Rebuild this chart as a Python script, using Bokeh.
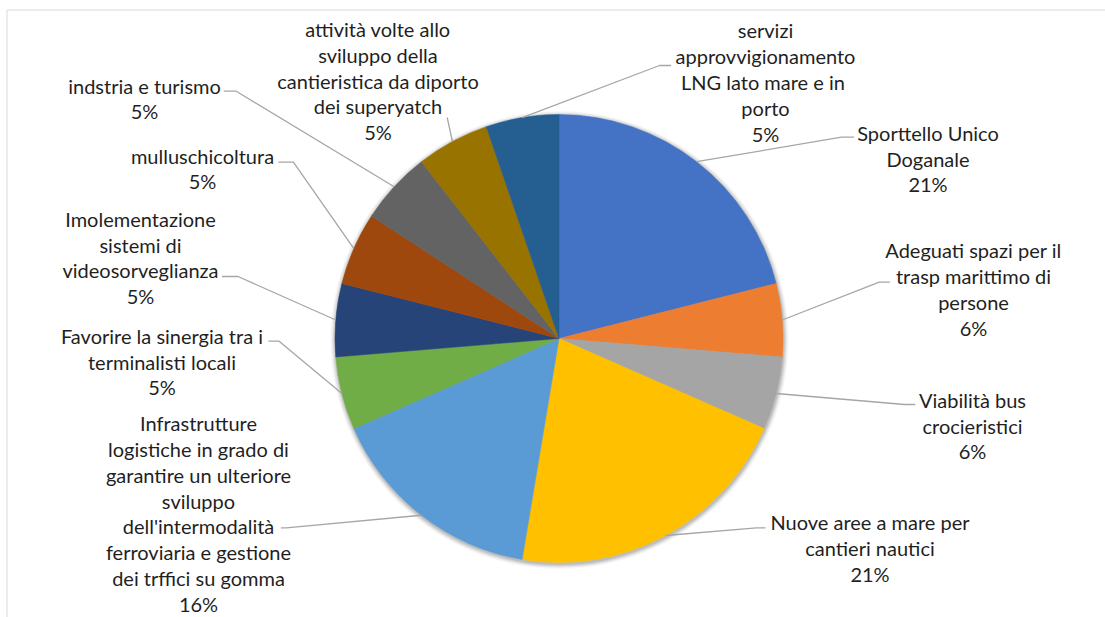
import numpy as np
from bokeh.plotting import figure
from bokeh.models import Range1d, ColumnDataSource
from bokeh.core.properties import value
from bokeh.embed import file_html
from bokeh.resources import INLINE

# ---------------- data ----------------
categories = [
    "Sporttello Unico\nDoganale",
    "Adeguati spazi per il\ntrasp marittimo di\npersone",
    "Viabilità bus\ncrocieristici",
    "Nuove aree a mare per\ncantieri nautici",
    "Infrastrutture\nlogistiche in grado di\ngarantire un ulteriore\nsviluppo\ndell'intermodalità\nferroviaria e gestione\ndei trffici su gomma",
    "Favorire la sinergia tra i\nterminalisti locali",
    "Imolementazione\nsistemi di\nvideosorveglianza",
    "mulluschicoltura",
    "indstria e turismo",
    "attività volte allo\nsviluppo della\ncantieristica da diporto\ndei superyatch",
    "servizi\napprovvigionamento\nLNG lato mare  e in\nporto",
]
values = [4, 1, 1, 4, 3, 1, 1, 1, 1, 1, 1]
pct_labels = ["21%", "6%", "6%", "21%", "16%", "5%", "5%", "5%", "5%", "5%", "5%"]
colors = ["#4472C4", "#ED7D31", "#A5A5A5", "#FFC000", "#5B9BD5", "#70AD47",
          "#264478", "#9E480E", "#636363", "#997300", "#255E91"]

# ---------------- layout (pixel coords, y down) ----------------
W, H = 1105, 617
CX, CY, R = 558.5, 338.0, 224.0
LH = 25.8
FONT = "Lato"
FSIZE = "20px"
TEXT_COLOR = "#1f1f1f"
label_pos = [(927.5, 158), (973, 288.5), (972, 425), (869.5, 547.5), (198, 513),
             (161.5, 361), (140, 257), (202, 168), (144, 98), (377.5, 80), (765, 81.5)]
leader_pts = [
    [(841, 136.7), (853.5, 136.7)],
    [(878.7, 281.7), (889.5, 281.7)],
    [(904, 404), (914.8, 404)],
    [(756, 527.3), (765, 527.3)],
    [(285.7, 527.3), (280.4, 527.3)],
    [(278.6, 340.7), (267.9, 340.7)],
    [(237.5, 276), (221.4, 276)],
    [(292.9, 161.7), (277.9, 161.7)],
    [(235.7, 90.7), (223.2, 90.7)],
    [(446.7, 117)],
    [(659, 65), (670.5, 65)],
]


def Y(py):
    return H - py


p = figure(width=W, height=H, x_range=Range1d(0, W), y_range=Range1d(0, H),
           output_backend="svg", toolbar_location=None, min_border=0)
p.axis.visible = False
p.grid.visible = False
p.outline_line_color = None
p.background_fill_color = "white"
p.border_fill_color = "white"

# chart-area border
p.line([6.5, 6.5, W + 5], [Y(H + 5), Y(9.5), Y(9.5)], line_color="#D9D9D9", line_width=1)

# soft shadow around the pie
for k, a in zip([5.0, 4.0, 3.0, 2.0, 1.0], [0.03, 0.04, 0.05, 0.07, 0.09]):
    p.circle(x=[CX + 0.5], y=[Y(CY + 1.5)], radius=R + k, fill_color="#000000",
             fill_alpha=a, line_color=None)

# wedges
vals = np.array(values, dtype=float)
frac = vals / vals.sum()
cum = np.cumsum(frac)
start = np.pi / 2 - 2 * np.pi * (cum - frac)
end = np.pi / 2 - 2 * np.pi * cum
src = ColumnDataSource(dict(start=start, end=end, color=colors,
                            x=[CX] * len(vals), y=[Y(CY)] * len(vals)))
p.wedge(x="x", y="y", radius=R, start_angle="start", end_angle="end",
        direction="clock", fill_color="color", line_color="color", line_width=0.5,
        source=src)

# leader lines
mid = (start + end) / 2
for i, pts in enumerate(leader_pts):
    sx = CX + R * np.cos(mid[i])
    sy = Y(CY) + R * np.sin(mid[i])
    xs = [sx] + [q[0] for q in pts]
    ys = [sy] + [Y(q[1]) for q in pts]
    p.line(xs, ys, line_color="#A6A6A6", line_width=1.3)

# labels (one text item per line)
tx, ty, tt = [], [], []
for i, (cat, pct) in enumerate(zip(categories, pct_labels)):
    lines = cat.split("\n") + [pct]
    n = len(lines)
    cx, cy = label_pos[i]
    for j, ln in enumerate(lines):
        tx.append(cx)
        ty.append(Y(cy + (j - (n - 1) / 2) * LH))
        tt.append(ln)
p.text(x=tx, y=ty, text=tt, text_align="center", text_baseline="middle",
       text_font=value(FONT), text_font_size=FSIZE, text_color=TEXT_COLOR)

open("out.html", "w").write(file_html(p, INLINE))
